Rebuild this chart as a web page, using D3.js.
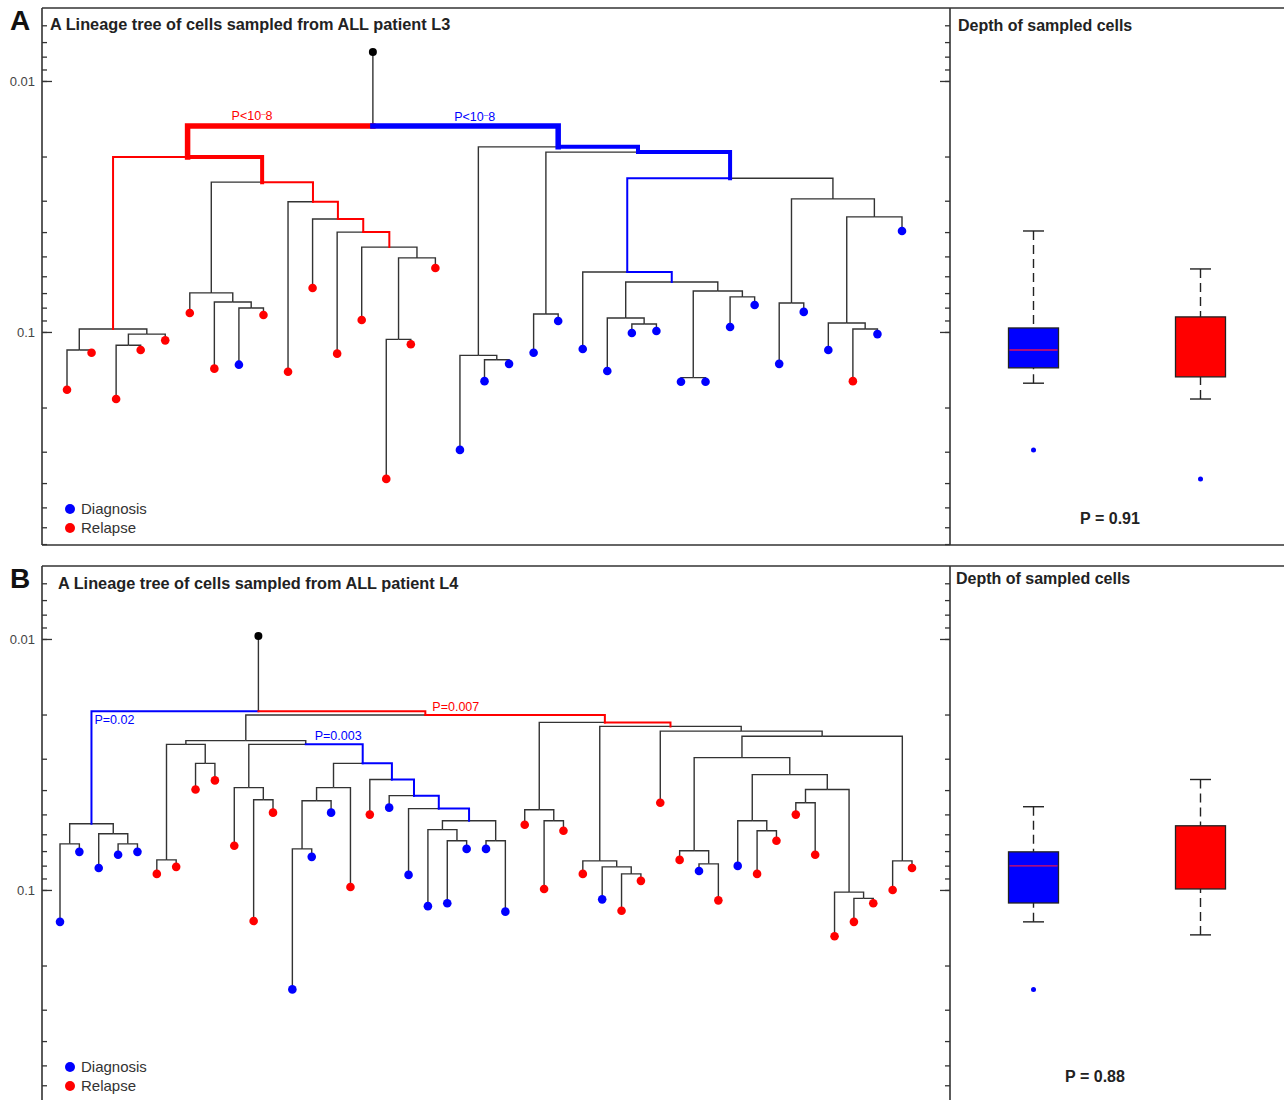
<!DOCTYPE html>
<html>
<head>
<meta charset="utf-8">
<script src="https://cdn.jsdelivr.net/npm/d3@7"></script>
<style>
  body { margin: 0; background: #fff; }
  svg { display: block; font-family: "Liberation Sans", Arial, sans-serif; }
</style>
</head>
<body>
<script>
// ---------------- data ----------------
// tree rows: [id, parent, depth of node, sample group ("D" diagnosis, "R" relapse, "" inner node)]
var treeA = [
  ["r", "", 0.00766, "root"],
  ["n1", "r", 0.0151, ""],
  ["a1", "n1", 0.0201, ""],
  ["al", "a1", 0.0973, ""],
  ["al1", "al", 0.118, ""],
  ["x1", "al1", 0.170, "R"],
  ["x2", "al1", 0.121, "R"],
  ["al2", "al", 0.102, ""],
  ["al3", "al2", 0.113, ""],
  ["x3", "al3", 0.185, "R"],
  ["x4", "al3", 0.118, "R"],
  ["x5", "al2", 0.108, "R"],
  ["a2", "a1", 0.0253, ""],
  ["b1", "a2", 0.0699, ""],
  ["x6", "b1", 0.0840, "R"],
  ["b2", "b1", 0.0760, ""],
  ["x7", "b2", 0.140, "R"],
  ["b3", "b2", 0.0803, ""],
  ["x8", "b3", 0.135, "D"],
  ["x9", "b3", 0.0856, "R"],
  ["a3", "a2", 0.0303, ""],
  ["x10", "a3", 0.144, "R"],
  ["a4", "a3", 0.0355, ""],
  ["x11", "a4", 0.0668, "R"],
  ["a5", "a4", 0.0400, ""],
  ["x12", "a5", 0.122, "R"],
  ["a6", "a5", 0.0459, ""],
  ["x13", "a6", 0.0896, "R"],
  ["c1", "a6", 0.0507, ""],
  ["c2", "c1", 0.107, ""],
  ["x14", "c2", 0.385, "R"],
  ["x15", "c2", 0.112, "R"],
  ["x16", "c1", 0.0556, "R"],
  ["r1", "n1", 0.0183, ""],
  ["d1", "r1", 0.124, ""],
  ["x17", "d1", 0.295, "D"],
  ["d2", "d1", 0.129, ""],
  ["x18", "d2", 0.157, "D"],
  ["x19", "d2", 0.134, "D"],
  ["r2", "r1", 0.0192, ""],
  ["e1", "r2", 0.0848, ""],
  ["x20", "e1", 0.121, "D"],
  ["x21", "e1", 0.0904, "D"],
  ["r3", "r2", 0.0244, ""],
  ["p1", "r3", 0.0577, ""],
  ["x22", "p1", 0.117, "D"],
  ["p2", "p1", 0.0632, ""],
  ["f1", "p2", 0.0880, ""],
  ["x23", "f1", 0.143, "D"],
  ["f2", "f1", 0.0929, ""],
  ["x24", "f2", 0.101, "D"],
  ["x25", "f2", 0.0991, "D"],
  ["g1", "p2", 0.0687, ""],
  ["g2", "g1", 0.152, ""],
  ["x26", "g2", 0.158, "D"],
  ["x27", "g2", 0.158, "D"],
  ["g3", "g1", 0.0725, ""],
  ["x28", "g3", 0.0955, "D"],
  ["x29", "g3", 0.0781, "D"],
  ["h1", "r3", 0.0295, ""],
  ["h2", "h1", 0.0767, ""],
  ["x30", "h2", 0.134, "D"],
  ["x31", "h2", 0.0832, "D"],
  ["h3", "h1", 0.0348, ""],
  ["h4", "h3", 0.0921, ""],
  ["x32", "h4", 0.118, "D"],
  ["h5", "h4", 0.0973, ""],
  ["x33", "h5", 0.157, "R"],
  ["x34", "h5", 0.102, "D"],
  ["x35", "h3", 0.0396, "D"]
];

var treeB = [
  ["r", "", 0.00973, "root"],
  ["n1", "r", 0.0194, ""],
  ["bl", "n1", 0.0545, ""],
  ["bl1", "bl", 0.0655, ""],
  ["y1", "bl1", 0.134, "D"],
  ["y2", "bl1", 0.0705, "D"],
  ["bl2", "bl", 0.0597, ""],
  ["y3", "bl2", 0.0817, "D"],
  ["bl3", "bl2", 0.0655, ""],
  ["y4", "bl3", 0.0724, "D"],
  ["y5", "bl3", 0.0705, "D"],
  ["q1", "n1", 0.0201, ""],
  ["c1", "q1", 0.0254, ""],
  ["dd", "c1", 0.0263, ""],
  ["dd1", "dd", 0.0759, ""],
  ["y6", "dd1", 0.0863, "R"],
  ["y7", "dd1", 0.0809, "R"],
  ["dd2", "dd", 0.0313, ""],
  ["y8", "dd2", 0.0398, "R"],
  ["y9", "dd2", 0.0366, "R"],
  ["c2", "c1", 0.0263, ""],
  ["k1", "c2", 0.0391, ""],
  ["y10", "k1", 0.0667, "R"],
  ["k2", "k1", 0.0437, ""],
  ["y11", "k2", 0.133, "R"],
  ["y12", "k2", 0.0492, "R"],
  ["e1", "c2", 0.0313, ""],
  ["m1", "e1", 0.0391, ""],
  ["m2", "m1", 0.0441, ""],
  ["m3", "m2", 0.0686, ""],
  ["y13", "m3", 0.249, "D"],
  ["y14", "m3", 0.0738, "D"],
  ["y15", "m2", 0.0492, "D"],
  ["y16", "m1", 0.0973, "R"],
  ["e2", "e1", 0.0363, ""],
  ["y17", "e2", 0.0501, "R"],
  ["e3", "e2", 0.0421, ""],
  ["y18", "e3", 0.0470, "D"],
  ["e4", "e3", 0.0474, ""],
  ["y19", "e4", 0.0871, "D"],
  ["e5", "e4", 0.0530, ""],
  ["o1", "e5", 0.0575, ""],
  ["y20", "o1", 0.116, "D"],
  ["o2", "o1", 0.0637, ""],
  ["y21", "o2", 0.113, "D"],
  ["y22", "o2", 0.0686, "D"],
  ["o3", "e5", 0.0637, ""],
  ["y23", "o3", 0.0686, "D"],
  ["y24", "o3", 0.122, "D"],
  ["q2", "q1", 0.0215, ""],
  ["s1", "q2", 0.0479, ""],
  ["y25", "s1", 0.0550, "R"],
  ["s2", "s1", 0.0530, ""],
  ["y26", "s2", 0.0991, "R"],
  ["y27", "s2", 0.0581, "R"],
  ["q3", "q2", 0.0223, ""],
  ["t1", "q3", 0.0766, ""],
  ["y28", "t1", 0.0863, "R"],
  ["t2", "t1", 0.0809, ""],
  ["y29", "t2", 0.109, "D"],
  ["t3", "t2", 0.0863, ""],
  ["y30", "t3", 0.121, "R"],
  ["y31", "t3", 0.0920, "R"],
  ["u1", "q3", 0.0233, ""],
  ["y32", "u1", 0.0449, "R"],
  ["u2", "u1", 0.0244, ""],
  ["u4", "u2", 0.0297, ""],
  ["v1", "u4", 0.0698, ""],
  ["y33", "v1", 0.0759, "R"],
  ["v2", "v1", 0.0787, ""],
  ["y34", "v2", 0.0840, "D"],
  ["y35", "v2", 0.110, "R"],
  ["w1", "u4", 0.0347, ""],
  ["w2", "w1", 0.0530, ""],
  ["y36", "w2", 0.0802, "D"],
  ["w3", "w2", 0.0581, ""],
  ["y37", "w3", 0.0863, "R"],
  ["y38", "w3", 0.0637, "R"],
  ["w4", "w1", 0.0398, ""],
  ["w5", "w4", 0.0449, ""],
  ["y39", "w5", 0.0501, "R"],
  ["y40", "w5", 0.0724, "R"],
  ["w6", "w4", 0.102, ""],
  ["y41", "w6", 0.153, "R"],
  ["w7", "w6", 0.108, ""],
  ["y42", "w7", 0.134, "R"],
  ["y43", "w7", 0.113, "R"],
  ["u3", "u2", 0.0766, ""],
  ["y44", "u3", 0.100, "R"],
  ["y45", "u3", 0.0817, "R"]
];

// significant branches: [node id, group, level of significance]
var signifA = [
  ["a1", "R", 3], ["a2", "R", 2], ["al", "R", 1], ["a3", "R", 1], ["a4", "R", 1], ["a5", "R", 1], ["a6", "R", 1],
  ["r1", "D", 3], ["r2", "D", 2], ["r3", "D", 2], ["p1", "D", 1], ["p2", "D", 1]
];
var signifB = [
  ["bl", "D", 1], ["q1", "R", 1], ["q2", "R", 1], ["q3", "R", 1],
  ["e1", "D", 1], ["e2", "D", 1], ["e3", "D", 1], ["e4", "D", 1], ["e5", "D", 1]
];

// p-value labels: [node id, text, group]
var pLabelsA = [["a1", "P<10^-8", "R"], ["r1", "P<10^-8", "D"]];
var pLabelsB = [["bl", "P=0.02", "D"], ["q1", "P=0.007", "R"], ["e1", "P=0.003", "D"]];

// box plots of depth: [low whisker, q1, median, q3, high whisker]
var groups = ["Diagnosis", "Relapse"];
var boxA = [[0.0396, 0.0964, 0.118, 0.139, 0.160], [0.0561, 0.0871, 0.112, 0.151, 0.185]];
var outliersA = [[0.295], [0.385]];
var boxB = [[0.0466, 0.0705, 0.0802, 0.1127, 0.134], [0.0363, 0.0555, 0.0760, 0.0991, 0.151]];
var outliersB = [[0.249], []];

var depthDomain = [0.00512, 0.706];
var depthLabels = [0.01, 0.1];

// ---------------- layout ----------------
var svgWidth = 1284;
var svgHeight = 1100;
var axisLeftX = 42;
var divideX = 950;
var panelHeight = 537;

var colors = { D: "#0000ff", R: "#ff0000" };
var medianColors = ["#e0105a", "#ff0000"];
var widths = { 1: 2, 2: 4, 3: 5.5 };

var svg = d3.select("body")
  .append("svg")
  .attr("width", svgWidth)
  .attr("height", svgHeight);

var panels = [
  {
    top: 8, letter: "A", title: "A Lineage tree of cells sampled from ALL patient L3", titleX: 50, titleY: 22,
    rows: treeA, signif: signifA, labels: pLabelsA,
    labelOffsets: [[44, -6], [-104, -5]],
    leafRange: [67, 902], box: boxA, outliers: outliersA, pText: "P = 0.91", pX: 1110,
    boxTitleX: 958, boxTitleY: 23
  },
  {
    top: 566, letter: "B", title: "A Lineage tree of cells sampled from ALL patient L4", titleX: 58, titleY: 23,
    rows: treeB, signif: signifB, labels: pLabelsB,
    labelOffsets: [[3, 13], [7, 0], [-48, -4]],
    leafRange: [60, 912], box: boxB, outliers: outliersB, pText: "P = 0.88", pX: 1095,
    boxTitleX: 956, boxTitleY: 18
  }
];

panels.forEach(drawPanel);

function drawPanel(p) {
  var g = svg.append("g");
  var bottom = p.top + panelHeight;

  var yScale = d3.scaleLog()
    .domain(depthDomain)
    .range([p.top, bottom]);

  // frame lines
  g.append("line").attr("x1", axisLeftX).attr("x2", svgWidth).attr("y1", p.top).attr("y2", p.top);
  g.append("line").attr("x1", axisLeftX).attr("x2", svgWidth).attr("y1", bottom).attr("y2", bottom);
  g.append("line").attr("x1", axisLeftX).attr("x2", axisLeftX).attr("y1", p.top).attr("y2", bottom);
  g.append("line").attr("x1", divideX).attr("x2", divideX).attr("y1", p.top).attr("y2", bottom);
  g.selectAll("line").attr("stroke", "#333").attr("stroke-width", 1.6);

  // left axis: minor ticks inward, major ticks with labels
  g.append("g")
    .attr("transform", `translate(${axisLeftX},0)`)
    .call(d3.axisLeft(yScale).tickSize(-5).tickFormat(""))
    .call(a => a.select(".domain").remove());
  g.append("g")
    .attr("transform", `translate(${axisLeftX},0)`)
    .call(d3.axisLeft(yScale).tickValues(depthLabels).tickSize(-10).tickPadding(7).tickFormat(d3.format("~g")))
    .call(a => a.select(".domain").remove())
    .call(a => a.selectAll("text").attr("font-size", 13).attr("fill", "#444").attr("font-family", "Liberation Sans, Arial, sans-serif"));

  // axis of the box plot panel: ticks pointing left
  g.append("g")
    .attr("transform", `translate(${divideX},0)`)
    .call(d3.axisLeft(yScale).tickSize(5).tickFormat(""))
    .call(a => a.select(".domain").remove());
  g.append("g")
    .attr("transform", `translate(${divideX},0)`)
    .call(d3.axisLeft(yScale).tickValues(depthLabels).tickSize(10).tickFormat(""))
    .call(a => a.select(".domain").remove());
  g.selectAll(".tick line").attr("stroke", "#333").attr("stroke-width", 1.3);

  // panel letter and titles
  g.append("text").attr("x", 10).attr("y", p.top + 22)
    .attr("font-size", 28).attr("font-weight", "bold").attr("fill", "#111").text(p.letter);
  g.append("text").attr("x", p.titleX).attr("y", p.top + p.titleY)
    .attr("font-size", 16.3).attr("font-weight", "bold").attr("fill", "#222").text(p.title);
  g.append("text").attr("x", p.boxTitleX).attr("y", p.top + p.boxTitleY)
    .attr("font-size", 16).attr("font-weight", "bold").attr("fill", "#222").text("Depth of sampled cells");

  // ---- tree ----
  var root = d3.stratify()
    .id(d => d.id)
    .parentId(d => d.parent)(p.rows.map(r => ({ id: r[0], parent: r[1], depth: r[2], group: r[3] })));
  d3.cluster().separation(() => 1).size([1, 1])(root);

  var leaves = root.leaves();
  var xScale = d3.scaleLinear()
    .domain(d3.extent(leaves, d => d.x))
    .range(p.leafRange);

  var signifMap = {};
  p.signif.forEach(s => { signifMap[s[0]] = s; });

  var links = root.descendants().filter(d => d.parent);
  var elbow = d => `M${xScale(d.parent.x)},${yScale(d.parent.data.depth)}H${xScale(d.x)}V${yScale(d.data.depth)}`;

  g.append("g").selectAll("path")
    .data(links.filter(d => !signifMap[d.id]))
    .enter().append("path")
    .attr("d", elbow)
    .attr("fill", "none")
    .attr("stroke", "#333")
    .attr("stroke-width", 1.4);

  g.append("g").selectAll("path")
    .data(links.filter(d => signifMap[d.id]).sort((a, b) => signifMap[a.id][2] - signifMap[b.id][2]))
    .enter().append("path")
    .attr("d", elbow)
    .attr("fill", "none")
    .attr("stroke", d => colors[signifMap[d.id][1]])
    .attr("stroke-width", d => widths[signifMap[d.id][2]])
    .attr("stroke-linecap", "square");

  // leaves
  g.append("g").selectAll("circle")
    .data(leaves)
    .enter().append("circle")
    .attr("cx", d => xScale(d.x))
    .attr("cy", d => yScale(d.data.depth))
    .attr("r", 4.3)
    .attr("fill", d => colors[d.data.group]);

  // root
  g.append("circle")
    .attr("cx", xScale(root.x))
    .attr("cy", yScale(root.data.depth))
    .attr("r", 4)
    .attr("fill", "#000");

  // p-value labels on the significant branches
  var byId = {};
  root.each(d => { byId[d.id] = d; });
  p.labels.forEach((l, i) => {
    var node = byId[l[0]];
    var off = p.labelOffsets[i];
    var t = g.append("text")
      .attr("x", xScale(node.x) + off[0])
      .attr("y", yScale(node.parent.data.depth) + off[1])
      .attr("font-size", 12.5)
      .attr("fill", colors[l[2]]);
    var parts = l[1].split("^");
    t.append("tspan").text(parts[0]);
    if (parts.length > 1) {
      t.append("tspan").attr("font-size", 8).attr("dy", -4).text("\u2013");
      t.append("tspan").attr("dy", 4).text(parts[1].replace("-", ""));
    }
  });

  // legend
  var legend = g.append("g");
  [["Diagnosis", "D"], ["Relapse", "R"]].forEach((item, i) => {
    var ly = p.top + 501 + i * 19;
    legend.append("circle").attr("cx", 70).attr("cy", ly).attr("r", 5).attr("fill", colors[item[1]]);
    legend.append("text").attr("x", 81).attr("y", ly + 5)
      .attr("font-size", 15).attr("fill", "#333").text(item[0]);
  });

  // ---- box plots ----
  var xBox = d3.scalePoint()
    .domain(groups)
    .range([divideX, svgWidth])
    .padding(0.5);
  var boxW = 50;
  var capW = 21;

  groups.forEach((name, i) => {
    var s = p.box[i];
    var cx = xBox(name);
    var col = i === 0 ? colors.D : colors.R;
    var bg = g.append("g");

    // whiskers
    bg.append("line").attr("x1", cx).attr("x2", cx).attr("y1", yScale(s[0])).attr("y2", yScale(s[1]));
    bg.append("line").attr("x1", cx).attr("x2", cx).attr("y1", yScale(s[4])).attr("y2", yScale(s[3]));
    bg.selectAll("line").attr("stroke", "#222").attr("stroke-width", 1.4).attr("stroke-dasharray", "9,5");
    bg.append("line").attr("x1", cx - capW / 2).attr("x2", cx + capW / 2)
      .attr("y1", yScale(s[0])).attr("y2", yScale(s[0])).attr("stroke", "#222").attr("stroke-width", 1.4);
    bg.append("line").attr("x1", cx - capW / 2).attr("x2", cx + capW / 2)
      .attr("y1", yScale(s[4])).attr("y2", yScale(s[4])).attr("stroke", "#222").attr("stroke-width", 1.4);

    // box
    bg.append("rect")
      .attr("x", cx - boxW / 2)
      .attr("y", yScale(s[1]))
      .attr("width", boxW)
      .attr("height", yScale(s[3]) - yScale(s[1]))
      .attr("fill", col)
      .attr("stroke", "#222")
      .attr("stroke-width", 1.3);
    bg.append("line").attr("x1", cx - boxW / 2 + 1).attr("x2", cx + boxW / 2 - 1)
      .attr("y1", yScale(s[2])).attr("y2", yScale(s[2]))
      .attr("stroke", medianColors[i]).attr("stroke-width", 1.3);

    // outliers
    bg.selectAll("circle")
      .data(p.outliers[i])
      .enter().append("circle")
      .attr("cx", cx)
      .attr("cy", d => yScale(d))
      .attr("r", 2.5)
      .attr("fill", colors.D);
  });

  g.append("text").attr("x", p.pX).attr("y", p.top + 516)
    .attr("text-anchor", "middle").attr("font-size", 16).attr("font-weight", "bold")
    .attr("fill", "#222").text(p.pText);
}
</script>
</body>
</html>
